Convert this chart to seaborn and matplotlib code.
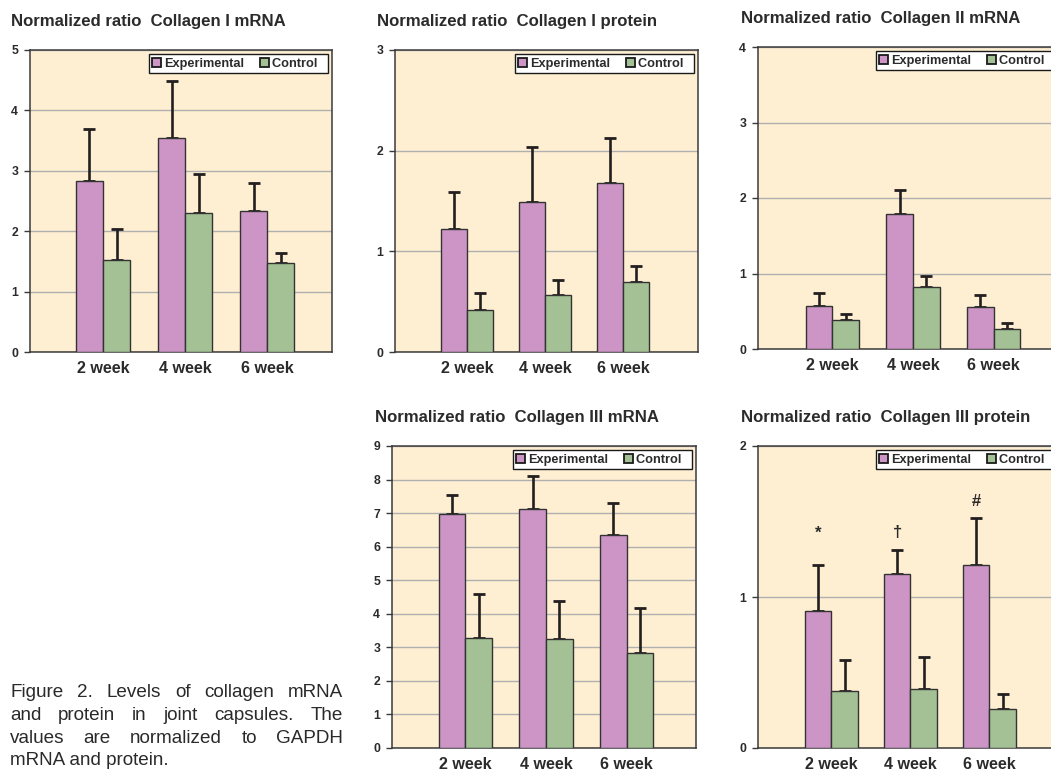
import numpy as np
import pandas as pd
import matplotlib
matplotlib.use("Agg")
import matplotlib.pyplot as plt
from matplotlib.patches import Patch
import seaborn as sns

# ---------------- data ----------------
weeks = ["2 week", "4 week", "6 week"]
groups = ["Experimental", "Control"]

titles = [
    "Normalized ratio  Collagen I mRNA",
    "Normalized ratio  Collagen I protein",
    "Normalized ratio  Collagen II mRNA",
    "Normalized ratio  Collagen III mRNA",
    "Normalized ratio  Collagen III protein",
]
y_max = [5, 3, 4, 9, 2]

col1_mrna_exp = [2.83, 3.54, 2.34]
col1_mrna_exp_sd = [0.86, 0.95, 0.46]
col1_mrna_ctrl = [1.53, 2.30, 1.47]
col1_mrna_ctrl_sd = [0.51, 0.64, 0.17]

col1_prot_exp = [1.22, 1.49, 1.68]
col1_prot_exp_sd = [0.37, 0.55, 0.45]
col1_prot_ctrl = [0.42, 0.57, 0.70]
col1_prot_ctrl_sd = [0.17, 0.15, 0.15]

col2_mrna_exp = [0.57, 1.79, 0.56]
col2_mrna_exp_sd = [0.17, 0.32, 0.16]
col2_mrna_ctrl = [0.38, 0.82, 0.26]
col2_mrna_ctrl_sd = [0.09, 0.15, 0.09]

col3_mrna_exp = [6.96, 7.13, 6.35]
col3_mrna_exp_sd = [0.58, 0.99, 0.96]
col3_mrna_ctrl = [3.29, 3.25, 2.84]
col3_mrna_ctrl_sd = [1.30, 1.13, 1.32]

col3_prot_exp = [0.91, 1.15, 1.21]
col3_prot_exp_sd = [0.30, 0.16, 0.31]
col3_prot_ctrl = [0.38, 0.39, 0.26]
col3_prot_ctrl_sd = [0.20, 0.21, 0.10]

col3_prot_marks = ["*", "\u2020", "#"]
col3_prot_mark_y = [1.39, 1.40, 1.60]

caption_lines = [
    "Figure 2. Levels of collagen mRNA",
    "and protein in joint capsules. The",
    "values are normalized to GAPDH",
    "mRNA and protein.",
]

panels = [
    (col1_mrna_exp, col1_mrna_exp_sd, col1_mrna_ctrl, col1_mrna_ctrl_sd),
    (col1_prot_exp, col1_prot_exp_sd, col1_prot_ctrl, col1_prot_ctrl_sd),
    (col2_mrna_exp, col2_mrna_exp_sd, col2_mrna_ctrl, col2_mrna_ctrl_sd),
    (col3_mrna_exp, col3_mrna_exp_sd, col3_mrna_ctrl, col3_mrna_ctrl_sd),
    (col3_prot_exp, col3_prot_exp_sd, col3_prot_ctrl, col3_prot_ctrl_sd),
]

# ---------------- style ----------------
sns.set_style("white")
plt.rcParams["font.family"] = ["Liberation Sans", "DejaVu Sans"]

W, H = 1051, 772
fig = plt.figure(figsize=(W / 100, H / 100), dpi=100)

EXP_C = "#CC95C6"
CTRL_C = "#A3C195"
BG = "#FFEFD2"
DARK = "#231F20"
TXT = "#2B2B2B"
EDGE = "#333333"

# axes boxes in pixels: left, top, right, bottom
boxes = [
    (30, 50, 332, 352),
    (395, 50, 698, 352),
    (758, 47, 1059, 349),
    (392, 446, 696, 748),
    (758, 446, 1059, 748),
]
xlims = [(-0.89, 2.79), (-0.92, 2.96), (-0.92, 2.81), (-0.91, 2.86), (-0.93, 2.88)]
title_pos = [(11, 26), (377, 26), (741, 23), (375, 422), (741, 422)]


def px_axes(l, t, r, b):
    return [l / W, 1 - b / H, (r - l) / W, (b - t) / H]


for i, (vals, box) in enumerate(zip(panels, boxes)):
    exp, exp_sd, ctrl, ctrl_sd = vals
    ax = fig.add_axes(px_axes(*box))
    ax.set_facecolor(BG)
    df = pd.DataFrame({
        "week": weeks * 2,
        "group": [groups[0]] * 3 + [groups[1]] * 3,
        "value": list(exp) + list(ctrl),
    })
    sns.barplot(data=df, x="week", y="value", hue="group", order=weeks,
                hue_order=groups, palette=[EXP_C, CTRL_C], width=0.66,
                errorbar=None, edgecolor=EDGE, linewidth=1.0, saturation=1,
                ax=ax, legend=False, zorder=3)
    for cont, sd in zip(ax.containers, [exp_sd, ctrl_sd]):
        xs = [p.get_x() + p.get_width() / 2 for p in cont]
        ys = [p.get_height() for p in cont]
        ax.errorbar(xs, ys, yerr=[np.zeros(len(sd)), sd], fmt="none",
                    ecolor=DARK, elinewidth=1.9, capsize=4.0, capthick=2.0,
                    zorder=2)
    ax.set_ylim(0, y_max[i])
    ax.set_xlim(*xlims[i])
    ax.set_yticks(range(0, y_max[i] + 1))
    ax.set_yticklabels([str(v) for v in range(0, y_max[i] + 1)],
                       fontweight="bold")
    ax.set_xticks(range(len(weeks)))
    ax.set_xticklabels(weeks, fontweight="bold")
    ax.yaxis.grid(True, color="#B0B0B0", linewidth=1.0, zorder=0)
    ax.set_axisbelow(True)
    ax.set_xlabel("")
    ax.set_ylabel("")
    for s in ax.spines.values():
        s.set_color("#3A3A3A")
        s.set_linewidth(1.1)
    ax.tick_params(axis="y", left=True, length=4, width=1.0, color="#3A3A3A",
                   labelsize=8.8, labelcolor=TXT, pad=4.5)
    ax.tick_params(axis="x", bottom=False, length=0, labelsize=11.6,
                   labelcolor=TXT, pad=6.5)
    handles = [Patch(facecolor=EXP_C, edgecolor="#1A1A1A", linewidth=1.3),
               Patch(facecolor=CTRL_C, edgecolor="#1A1A1A", linewidth=1.3)]
    leg_labels = [groups[0], groups[1] + "  "]
    leg = ax.legend(handles, leg_labels, loc="upper right", ncol=2,
                    prop={"size": 9.2, "weight": "bold"}, frameon=True,
                    fancybox=False, borderaxespad=0.35, borderpad=0.25,
                    handlelength=0.7, handleheight=0.7, handletextpad=0.25,
                    columnspacing=1.2)
    leg.get_frame().set_edgecolor("#1A1A1A")
    leg.get_frame().set_linewidth(1.0)
    leg.get_frame().set_facecolor("white")
    leg.get_frame().set_alpha(1)
    for t in leg.get_texts():
        t.set_color(TXT)
    tx, ty = title_pos[i]
    fig.text(tx / W, 1 - ty / H, titles[i], fontsize=12.1, fontweight="bold",
             color=TXT, ha="left", va="baseline")
    if i == 4:
        for xc, m, my in zip([p.get_x() + p.get_width() / 2 for p in ax.containers[0]],
                             col3_prot_marks, col3_prot_mark_y):
            ax.text(xc, my, m, ha="center", va="baseline", fontsize=12,
                    fontweight="bold", color=TXT, zorder=5)

# ---------------- justified caption ----------------
fig.canvas.draw()
renderer = fig.canvas.get_renderer()
x0, x1 = 10, 343
baselines = [697, 720, 743, 765]
CAP_FS = 13.6
CAP_FAM = ["Liberation Sans", "DejaVu Sans"]
for k, line in enumerate(caption_lines):
    y = 1 - baselines[k] / H
    if k == len(caption_lines) - 1:
        fig.text(x0 / W, y, line, fontsize=CAP_FS, family=CAP_FAM,
                 color="#2A2A2A", ha="left", va="baseline")
        continue
    words = line.split()
    texts = [fig.text(0, y, w, fontsize=CAP_FS, family=CAP_FAM,
                      color="#2A2A2A", ha="left", va="baseline") for w in words]
    widths = [t.get_window_extent(renderer).width for t in texts]
    gap = (x1 - x0 - sum(widths)) / (len(words) - 1)
    x = x0
    for t, w in zip(texts, widths):
        t.set_x(x / W)
        x += w + gap

fig.savefig("out.png", dpi=100, facecolor="white")
